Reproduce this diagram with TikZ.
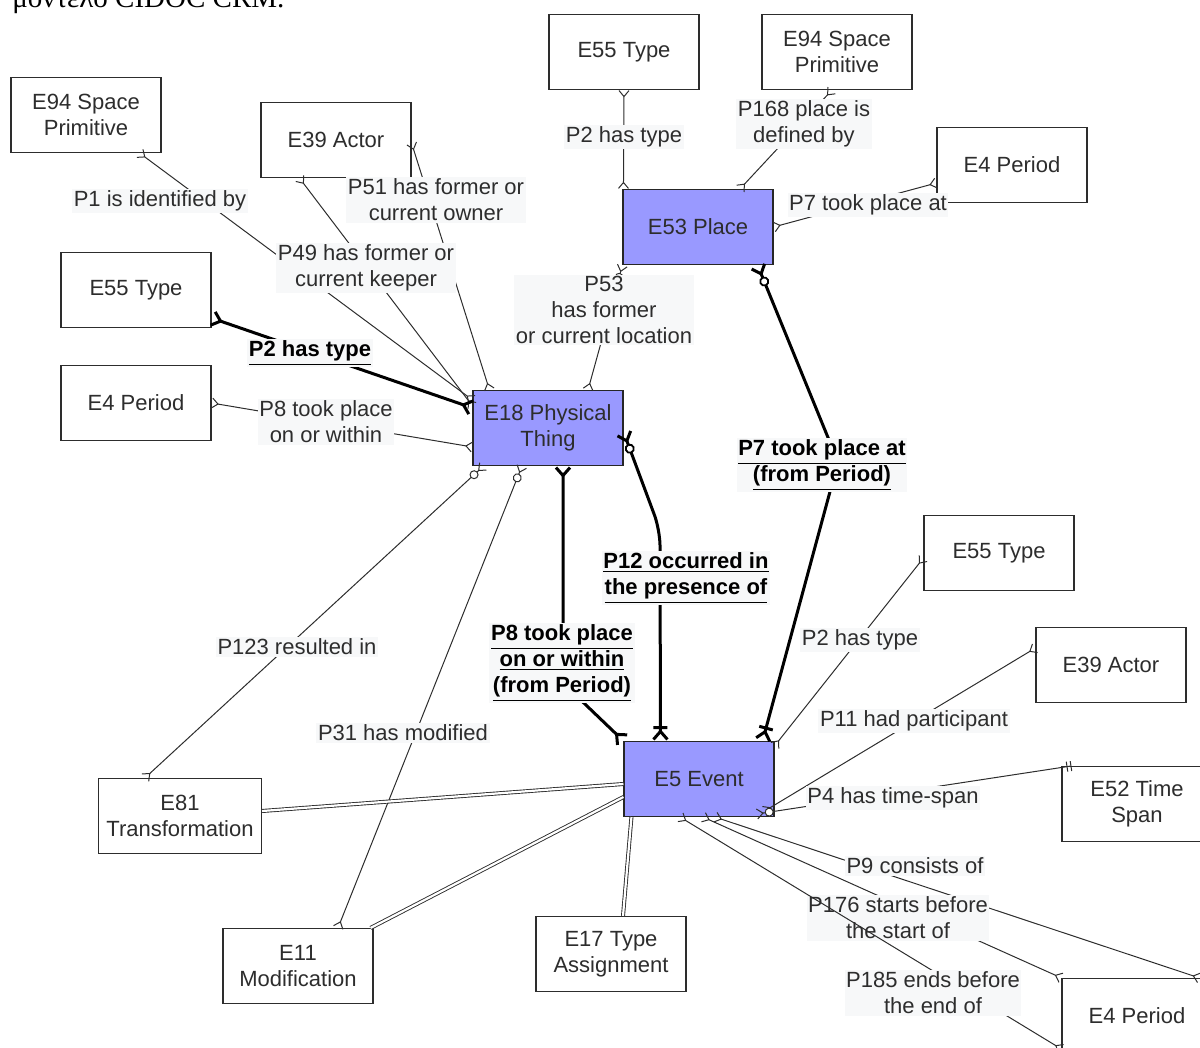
\documentclass[tikz,border=0pt]{standalone}
\usepackage{fontspec}
\setmainfont{Liberation Sans}
\newfontfamily\greekserif{Liberation Serif}
\usepackage{tikz}
\usetikzlibrary{arrows.meta, calc}

\definecolor{hubblue}{RGB}{153,153,255}
\definecolor{inkgray}{RGB}{45,45,45}
\definecolor{lblback}{RGB}{247,248,249}

\tikzset{
  entity/.style={draw=inkgray, fill=white, line width=0.55pt, minimum width=75pt,
    minimum height=37.5pt, align=center, inner sep=1pt, text=inkgray},
  hub/.style={entity, fill=hubblue, draw=black!85},
  rel/.style={draw=inkgray, line width=0.5pt},
  boldrel/.style={draw=black, line width=1.5pt, rounded corners=8pt},
  link/.style={draw=inkgray, line width=0.45pt, double=white, double distance=1.1pt},
  lbl/.style={fill=lblback, text=inkgray, align=center, inner sep=0.8pt},
  boldlbl/.style={lbl, text=black, font=\fontsize{11}{13}\selectfont\bfseries},
  erMany/.tip={Straight Barb[reversed, length=3pt, width=5pt]},
  erZeroMany/.tip={Circle[fill=white, line width=0.5pt, length=4.5pt, width=4.5pt, sep=0.5pt] Straight Barb[reversed, length=3pt, width=5pt]},
  erOne/.tip={Bar[width=5pt, sep=1.5pt] Bar[width=5pt]},
  erBigMany/.tip={Straight Barb[reversed, length=4pt, width=7pt]},
  erBigZeroMany/.tip={Circle[fill=white, line width=0.9pt, length=5pt, width=5pt, sep=0.5pt] Straight Barb[reversed, length=4pt, width=7pt]},
  erBigOneMany/.tip={Bar[width=7pt] Straight Barb[reversed, length=4pt, width=7pt]},
}

\begin{document}
\begin{tikzpicture}[x=0.5pt, y=-0.5pt, font=\fontsize{11}{13}\selectfont]
    \useasboundingbox (0,0) rectangle (1200,1048);

    % Caption line cut by the page top
    \node[anchor=base west, inner sep=0pt, font=\fontsize{14.5}{16}\selectfont\greekserif] (caption) at (12,8) {μοντέλο CIDOC CRM.};

    % Entities
    \node[entity] (e94a) at (86,115) {E94 Space\\Primitive};
    \node[entity] (e39a) at (336,140) {E39 Actor};
    \node[entity] (e55a) at (624,52) {E55 Type};
    \node[entity] (e94b) at (837,52) {E94 Space\\Primitive};
    \node[entity] (e4a) at (1012,165) {E4 Period};
    \node[hub] (e53) at (698,227) {E53 Place};
    \node[entity] (e55b) at (136,290) {E55 Type};
    \node[entity] (e4b) at (136,403) {E4 Period};
    \node[hub] (e18) at (548,428) {E18 Physical\\Thing};
    \node[entity] (e55c) at (999,553) {E55 Type};
    \node[entity] (e39b) at (1111,665) {E39 Actor};
    \node[entity] (e52) at (1137,804) {E52 Time\\Span};
    \node[hub] (e5) at (699,779) {E5 Event};
    \node[entity, minimum width=81.5pt] (e81) at (180,816) {E81\\Transformation};
    \node[entity] (e11) at (298,966) {E11\\Modification};
    \node[entity] (e17) at (611,954) {E17 Type\\Assignment};
    \node[entity] (e4c) at (1137,1016) {E4 Period};

    % Bend points of the bold relations
    \coordinate (b12) at (660,530);
    \coordinate (b8) at (563,683);
    \coordinate (b7) at (838,462);

    % Relations around E18
    \draw[rel, erMany-erMany] ($(e94a.south east)+(-22,0)$) -- ($(e18.north west)+(0,10)$);
    \draw[rel, erMany-erMany] ($(e39a.south west)+(39,0)$) -- ($(e18.north west)+(0,16)$);
    \draw[rel, erMany-erMany] ($(e39a.east)+(0,3)$) -- ($(e18.north west)+(17,0)$);
    \draw[rel, erZeroMany-erMany] (e53.south west) -- ($(e18.north)+(40,0)$);
    \draw[rel, erMany-erMany] (e4b.east) -- ($(e18.west)+(0,19)$);
    \draw[rel, erZeroMany-erMany] ($(e18.south west)+(11,0)$) -- ($(e81.north west)+(47,0)$);
    \draw[rel, erZeroMany-erMany] ($(e18.south)+(-26,0)$) -- ($(e11.north)+(40,0)$);

    % Relations around E53
    \draw[rel, erMany-erMany] (e55a.south) -- ($(e53.north west)+(1,0)$);
    \draw[rel, erMany-erMany] ($(e94b.south)+(-5,0)$) -- ($(e53.north)+(42,0)$);
    \draw[rel, erMany-erMany] (e53.east) -- ($(e4a.west)+(0,18)$);

    % Relations around E5
    \draw[rel, erMany-erMany] ($(e5.north east)+(0,5)$) -- ($(e55c.west)+(0,5)$);
    \draw[rel, erMany-erMany] ($(e5.south east)+(-10,-6)$) -- ($(e39b.west)+(0,-17)$);
    \draw[rel, erZeroMany-erOne] ($(e5.south east)+(-18,-3)$) -- ($(e52.north west)+(10,0)$);
    \draw[rel, erMany-erMany] ($(e5.south)+(16,0)$) -- ($(e4c.north east)+(-13,0)$);
    \draw[rel, erMany-erMany] ($(e5.south)+(4,0)$) -- (e4c.north west);

    % Sub-event links
    \draw[link] ($(e81.east)+(0,-5)$) -- ($(e5.west)+(0,5)$);
    \draw[link] ($(e11.north east)+(-3,0)$) -- ($(e5.west)+(0,18)$);
    \draw[link] ($(e17.north)+(12,0)$) -- ($(e5.south west)+(8,0)$);

    % Bold relations
    \draw[boldrel, erBigMany-erBigMany] ($(e55b.south east)+(0,-10)$) -- ($(e18.north west)+(0,18)$);
    \draw[boldrel, erBigMany-erBigMany] ($(e18.south)+(15,0)$) -- (b8) -- (e5.north west);
    \draw[boldrel, erBigZeroMany-erBigOneMany] ($(e18.east)+(0,4)$) -- (b12) -- ($(e5.north west)+(37,0)$);
    \draw[boldrel, erBigZeroMany-erBigOneMany] ($(e53.south east)+(-16,0)$) -- (b7) -- ($(e5.north east)+(-12,0)$);

    % Labels
    \node[lbl] (l1) at (160,201) {P1 is identified by};
    \node[lbl] (l51) at (436,200) {P51 has former or\\current owner};
    \node[lbl] (l49) at (366,268) {P49 has former or\\current keeper};
    \node[lbl] (l2a) at (624,137) {P2 has type};
    \node[lbl] (l168) at (804,124) {P168 place is\\defined by};
    \node[lbl] (l7a) at (868,205) {P7 took place at};
    \node[lbl] (l53) at (604,310) {P53\\has former\\or current location};
    \node[lbl] (l8a) at (326,422) {P8 took place\\on or within};
    \node[lbl] (l123) at (297,647) {P123 resulted in};
    \node[lbl] (l2c) at (860,640) {P2 has type};
    \node[lbl] (l11) at (914,721) {P11 had participant};
    \node[lbl] (l31) at (403,733) {P31 has modified};
    \node[lbl] (l4) at (893,798) {P4 has time-span};
    \node[lbl] (l9) at (915,866) {P9 consists of};
    \node[lbl] (l176) at (898,918) {P176 starts before\\the start of};

    % This one runs over the P176 label
    \draw[rel, erMany-erMany] ($(e5.south)+(-19,0)$) -- ($(e4c.south west)+(0,-5)$);
    \node[lbl] (l185) at (933,993) {P185 ends before\\the end of};

    % Bold labels
    \node[boldlbl] (l2b) at (310,353) {\underline{P2 has type}};
    \node[boldlbl] (l7b) at (822,465) {\underline{P7 took place at}\\\underline{(from Period)}};
    \node[boldlbl] (l12) at (686,578) {\underline{P12 occurred in}\\\underline{the presence of}};
    \node[boldlbl] (l8b) at (562,663) {\underline{P8 took place}\\\underline{on or within}\\\underline{(from Period)}};
\end{tikzpicture}
\end{document}
